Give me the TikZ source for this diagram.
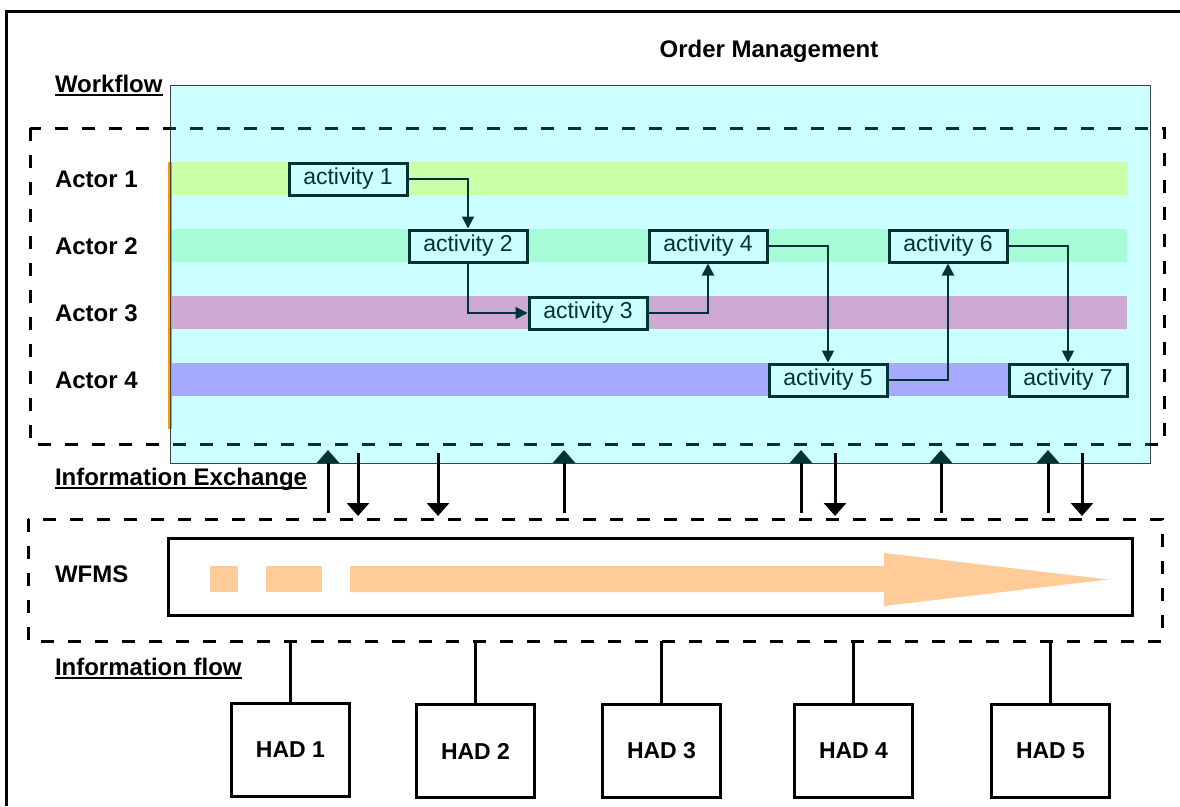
\documentclass[tikz,border=0pt]{standalone}
\usepackage{fontspec}
\setmainfont{Liberation Sans}
\usetikzlibrary{arrows.meta,calc}
\definecolor{cyanbg}{HTML}{CCFFFF}
\definecolor{laneA}{HTML}{CCFFAA}
\definecolor{laneB}{HTML}{A6FCD6}
\definecolor{laneC}{HTML}{CCAAD4}
\definecolor{laneD}{HTML}{A6AAFF}
\definecolor{peach}{HTML}{FFCC99}
\definecolor{dteal}{HTML}{003333}
\definecolor{laneorange}{HTML}{FF9900}
\begin{document}
\begin{tikzpicture}[x=1pt,y=-1pt,
  lbl/.style={font=\fontsize{24}{28}\selectfont\bfseries, anchor=base west, inner sep=0pt, outer sep=0pt},
  uline/.style={line width=2pt},
  actbox/.style={draw=dteal, line width=3pt, fill=cyanbg, minimum width=118pt, minimum height=32pt,
    inner sep=0pt, font=\fontsize{23}{26}\selectfont, text=dteal},
  flow/.style={draw=dteal, line width=2pt, -{Triangle[width=12pt,length=12pt]}},
  hadbox/.style={draw, line width=3pt, minimum width=118pt, minimum height=93pt, inner sep=0pt,
    font=\fontsize{23}{26}\selectfont\bfseries},
  dashbox/.style={line width=3pt, dash pattern=on 13pt off 14pt},
  uparr/.style={line width=3pt, -{Triangle[width=22pt,length=13pt,color=dteal]}},
  downarr/.style={line width=3pt, -{Triangle[width=22pt,length=13pt]}},
]
\useasboundingbox (0,0) rectangle (1180,806);
\fill[white] (0,0) rectangle (1180,806);

% outer frame
\draw[line width=3.5pt] (6.5,806) -- (6.5,11.5) -- (1180,11.5);

% title
\node[lbl, anchor=base] (title) at (769,57) {Order Management};

% workflow area
\node[draw=black!75, line width=1pt, fill=cyanbg, anchor=north west, minimum width=980pt,
      minimum height=378pt, inner sep=0pt, outer sep=0pt] (wfarea) at (170,85) {};
\fill[laneA] (171,162) rectangle (1127,195);
\fill[laneB] (171,229) rectangle (1127,262);
\fill[laneC] (171,296) rectangle (1127,329);
\fill[laneD] (171,363) rectangle (1127,396);
\draw[laneorange, line width=3.5pt] (170,162) -- (170,429);
\draw[black!75, line width=1pt] (170,85) -- (170,463);

% workflow dashed frame
\draw[dashbox] (30,128) rectangle (1164,444);
\begin{scope}
  \clip (170,85) rectangle (1150,463);
  \draw[dashbox, dteal] (30,128) rectangle (1164,444);
\end{scope}

% labels
\node[lbl] (wf) at (55,92) {Workflow};
\draw[uline] ([yshift=-3pt]wf.base west) -- ([yshift=-3pt]wf.base east);
\node[lbl] (act1) at (55,187) {Actor 1};
\node[lbl] (act2) at (55,254) {Actor 2};
\node[lbl] (act3) at (55,321) {Actor 3};
\node[lbl] (act4) at (55,388) {Actor 4};

% activities
\node[actbox] (a1) at (348,179) {activity 1};
\node[actbox] (a2) at (468,246) {activity 2};
\node[actbox] (a3) at (588,313) {activity 3};
\node[actbox] (a4) at (708,246) {activity 4};
\node[actbox] (a5) at (828,380) {activity 5};
\node[actbox] (a6) at (948,246) {activity 6};
\node[actbox] (a7) at (1068,380) {activity 7};

\draw[flow] (a1.east) -| (a2.north);
\draw[flow] (a2.south) |- (a3.west);
\draw[flow] (a3.east) -| (a4.south);
\draw[flow] (a4.east) -| (a5.north);
\draw[flow] (a5.east) -| (a6.south);
\draw[flow] (a6.east) -| (a7.north);

% information exchange
\node[lbl] (ie) at (55,485) {Information Exchange};
\draw[uline] ([yshift=-3pt]ie.base west) -- ([yshift=-3pt]ie.base east);

% WFMS
\draw[dashbox] (28,519) rectangle (1162,641);
\coordinate (wfmsbottom) at (28,641);
\node[lbl] (wfmslbl) at (55,582) {WFMS};
\node[draw, line width=3pt, anchor=north west, minimum width=964pt, minimum height=77pt,
      inner sep=0pt, outer sep=0pt] (wfms) at (168,538) {};
\fill[peach] (210,566) rectangle (238,592);
\fill[peach] (266,566) rectangle (322,592);
\fill[peach] (350,566) -- (884,566) -- (884,553) -- (1108,579.5) -- (884,606) -- (884,592) -- (350,592) -- cycle;

% exchange arrows
\foreach \x [count=\i] in {328,564,801,941,1048} {
  \coordinate (ub\i) at (\x,513);
  \coordinate (ut\i) at (\x,450);
  \draw[uparr] (ub\i) -- (ut\i);
}
\foreach \x [count=\i] in {358,438,835,1082} {
  \coordinate (db\i) at (\x,453);
  \coordinate (dt\i) at (\x,516);
  \draw[downarr] (db\i) -- (dt\i);
}

% information flow
\node[lbl] (if) at (55,675) {Information flow};
\draw[uline] ([yshift=-3pt]if.base west) -- ([yshift=-3pt]if.base east);

\node[hadbox] (had1) at (290.5,750) {HAD 1};
\node[hadbox] (had2) at (475.5,751) {HAD 2};
\node[hadbox] (had3) at (661.5,751) {HAD 3};
\node[hadbox] (had4) at (853.5,751) {HAD 4};
\node[hadbox] (had5) at (1050.5,751) {HAD 5};
\foreach \h in {had1,had2,had3,had4,had5} {
  \draw[line width=3pt] (\h.north) -- (\h.north |- wfmsbottom);
}
\end{tikzpicture}
\end{document}
